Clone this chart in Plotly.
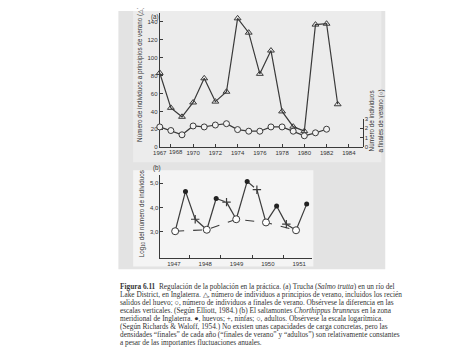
import plotly.graph_objects as go

# browser body margin compensation (page has an 8px default body margin)
OX, OY = 8, 8
W, H = 474 - 2 * OX, 355 - 2 * OY

# ---------------- data (a) trout ----------------
trout_years = list(range(1967, 1984))
trout_spring = [83, 44, 34, 50, 77, 51, 62, 144, 128, 82, 108, 40, 23, 18, 137, 138, 48]
trout_autumn_years = list(range(1967, 1983))
trout_autumn = [2.14, 1.76, 1.31, 2.24, 2.14, 2.34, 2.48, 1.86, 1.69, 1.69, 2.14, 2.14, 1.69, 1.21, 1.52, 1.90]
top_xticks = [1967, 1968, 1970, 1972, 1974, 1976, 1978, 1980, 1982, 1984]
top_xticklabels = ["1967", "", "1970", "1972", "1974", "1976", "1978", "1980", "1982", "1984"]
crowded_tick = 1968  # its label is nudged right in the original figure
top_yticks = [0, 20, 40, 60, 80, 100, 120, 140]
right_yticks = [0, 1, 2, 3]

# ---------------- data (b) grasshopper ----------------
adult_x = [1947.04, 1948.05, 1948.99, 1949.94, 1950.90]
adult_y = [3.03, 3.09, 3.52, 3.39, 3.07]
egg_x = [1947.37, 1948.35, 1949.34, 1950.28, 1951.24]
egg_y = [4.66, 4.37, 5.07, 4.06, 4.14]
nymph_x = [1947.68, 1948.68, 1949.65, 1950.59]
nymph_y = [3.52, 4.22, 4.73, 3.32]
bottom_years = [1947, 1948, 1949, 1950, 1951]
bottom_yticks = [3.0, 4.0, 5.0]
bottom_yticklabels = ["3,0", "4,0", "5,0"]
dashed_egg_to_nymph = [1, 2]  # seasons whose egg->nymph segment is dashed

INK = "#3a3a3a"

# life-cycle sequence adult -> egg -> nymph -> adult ...
seq_x, seq_y = [], []
for i in range(len(adult_x)):
    seq_x.append(adult_x[i]); seq_y.append(adult_y[i])
    if i < len(egg_x):
        seq_x.append(egg_x[i]); seq_y.append(egg_y[i])
    if i < len(nymph_x):
        seq_x.append(nymph_x[i]); seq_y.append(nymph_y[i])
if len(egg_x) > len(nymph_x):
    seq_x.append(egg_x[-1]); seq_y.append(egg_y[-1])

fig = go.Figure()

# (a)
fig.add_trace(go.Scatter(x=trout_years, y=trout_spring, mode="lines+markers",
                         line=dict(color=INK, width=1.2),
                         marker=dict(symbol="triangle-up-open", size=6, color=INK, line=dict(width=1)),
                         xaxis="x", yaxis="y", showlegend=False, cliponaxis=False))
fig.add_trace(go.Scatter(x=trout_autumn_years, y=trout_autumn, mode="lines+markers",
                         line=dict(color=INK, width=1.2),
                         marker=dict(symbol="circle", size=6, color="#f2f2f2", line=dict(width=1, color=INK)),
                         xaxis="x", yaxis="y2", showlegend=False, cliponaxis=False))

# (b)
fig.add_trace(go.Scatter(x=adult_x, y=adult_y, mode="lines",
                         line=dict(color=INK, width=1.1, dash="dash"),
                         xaxis="x2", yaxis="y3", showlegend=False))
for k in range(len(seq_x) - 1):
    season, stage = divmod(k, 3)
    dashed = stage == 1 and season in dashed_egg_to_nymph
    fig.add_trace(go.Scatter(x=seq_x[k:k + 2], y=seq_y[k:k + 2], mode="lines",
                             line=dict(color=INK, width=1.1 if dashed else 1.2,
                                       dash="dash" if dashed else "solid"),
                             xaxis="x2", yaxis="y3", showlegend=False))
fig.add_trace(go.Scatter(x=egg_x, y=egg_y, mode="markers",
                         marker=dict(symbol="circle", size=5, color="#222"),
                         xaxis="x2", yaxis="y3", showlegend=False, cliponaxis=False))
fig.add_trace(go.Scatter(x=nymph_x, y=nymph_y, mode="markers",
                         marker=dict(symbol="cross-thin-open", size=6, color=INK,
                                     line=dict(width=1.2, color=INK)),
                         xaxis="x2", yaxis="y3", showlegend=False, cliponaxis=False))
fig.add_trace(go.Scatter(x=adult_x, y=adult_y, mode="markers",
                         marker=dict(symbol="circle", size=7, color="white", line=dict(width=1, color=INK)),
                         xaxis="x2", yaxis="y3", showlegend=False, cliponaxis=False))


def px_x(p):
    return (p - OX) / W


def px_y(p):
    return (H - (p - OY)) / H


tickfont = dict(family="Liberation Sans, Arial", size=6, color="#333")
axis_common = dict(showgrid=False, zeroline=False, showline=True, linecolor=INK, linewidth=1,
                   ticks="inside", tickcolor=INK, ticklen=3, tickfont=tickfont, tickangle=0)

fig.update_layout(
    width=W, height=H, margin=dict(l=0, r=0, t=0, b=0),
    paper_bgcolor="white", plot_bgcolor="rgba(0,0,0,0)",
    xaxis=dict(domain=[px_x(155), px_x(361)], range=[1967, 1985.24], anchor="y",
               tickvals=top_xticks, ticktext=top_xticklabels, **axis_common),
    yaxis=dict(domain=[px_y(146.7), px_y(10)], range=[0, 150], anchor="x",
               tickvals=top_yticks, **axis_common),
    yaxis2=dict(domain=[px_y(146.7), px_y(117.7)], range=[0, 3], anchor="x", side="right",
                tickvals=right_yticks, **axis_common),
    xaxis2=dict(domain=[px_x(155.7), px_x(309.3)], range=[1946.57, 1951.40], anchor="y3",
                tickvals=bottom_years, **{**axis_common, "ticks": ""},
                minor=dict(tickvals=[y + 0.5 for y in bottom_years[:-1]], ticks="inside",
                           ticklen=3, tickcolor=INK)),
    yaxis3=dict(domain=[px_y(259.3), px_y(175)], range=[1.94, 5.33], anchor="x2",
                tickvals=bottom_yticks, ticktext=bottom_yticklabels, **axis_common),
)

# nudged label of the crowded 1968 tick
fig.add_annotation(xref="x", yref="paper", x=crowded_tick, y=px_y(146.8), xshift=5.5,
                   xanchor="center", yanchor="top", showarrow=False, text=str(crowded_tick),
                   font=tickfont)

# page background decorations
fig.add_shape(type="rect", xref="paper", yref="paper", x0=px_x(113), x1=px_x(384),
              y0=px_y(271), y1=1, fillcolor="#e3e3e3", line_width=0, layer="below")
fig.add_shape(type="rect", xref="paper", yref="paper", x0=px_x(128), x1=px_x(380),
              y0=px_y(162), y1=1, fillcolor="#ececec", line_width=0, layer="below")
fig.add_shape(type="rect", xref="paper", yref="paper", x0=px_x(128), x1=px_x(311),
              y0=px_y(268), y1=px_y(170), fillcolor="#f4f4f4", line_width=0, layer="below")

titlefont = dict(family="Liberation Sans, Arial", size=6.3, color="#333")
ann = [
    dict(text="(a)", x=px_x(150), y=px_y(8.5), xanchor="center", yanchor="top"),
    dict(text="(b)", x=px_x(152), y=px_y(168), xanchor="center", yanchor="middle"),
    dict(text="Número de individuos a principios de verano (△)", x=px_x(135), y=px_y(73),
         textangle=-90, xanchor="center", yanchor="middle"),
    dict(text="Número de individuos<br>a finales de verano (○)", x=px_x(375), y=px_y(120),
         textangle=-90, xanchor="center", yanchor="middle"),
    dict(text="Log<sub>10</sub> del número de individuos", x=px_x(137), y=px_y(215),
         textangle=-90, xanchor="center", yanchor="middle"),
]
for a in ann:
    fig.add_annotation(xref="paper", yref="paper", showarrow=False, font=titlefont, **a)

caption_lines = [
    "<b>Figura 6.11</b>  Regulación de la población en la práctica. (a) Trucha (<i>Salmo trutta</i>) en un río del",
    "Lake District, en Inglaterra. △, número de individuos a principios de verano, incluidos los recién",
    "salidos del huevo; ○, número de individuos a finales de verano. Obsérvese la diferencia en las",
    "escalas verticales. (Según Elliott, 1984.) (b) El saltamontes <i>Chorthippus brunneus</i> en la zona",
    "meridional de Inglaterra. ●, huevos; +, ninfas; ○, adultos. Obsérvese la escala logarítmica.",
    "(Según Richards &amp; Waloff, 1954.) No existen unas capacidades de carga concretas, pero las",
    "densidades “finales” de cada año (“finales de verano” y “adultos”) son relativamente constantes",
    "a pesar de las importantes fluctuaciones anuales.",
]
for i, line in enumerate(caption_lines):
    fig.add_annotation(xref="paper", yref="paper", showarrow=False,
                       x=px_x(113), y=px_y(288 + 8.15 * i), xanchor="left", yanchor="middle",
                       align="left", text=line,
                       font=dict(family="Liberation Serif, Times New Roman", size=7.3, color="#333"))

fig.write_html("out.html")
